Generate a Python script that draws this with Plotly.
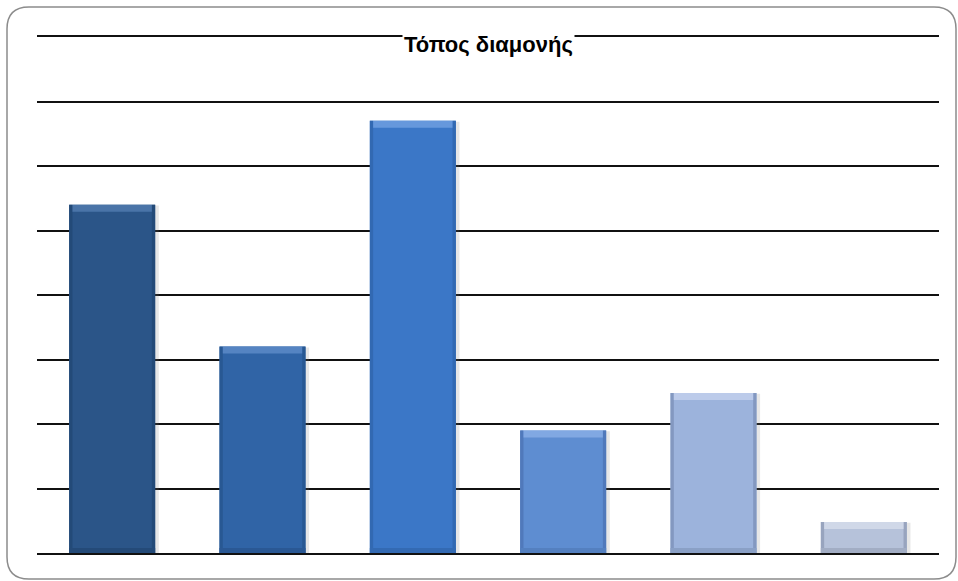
import plotly.graph_objects as go

# Τόπος διαμονής – share of respondents per category (%)
categories = ["Κ1", "Κ2", "Κ3", "Κ4", "Κ5", "Κ6"]
values = [27.0, 16.0, 33.5, 9.5, 12.4, 2.4]

# fill colours, dark to light
base_colors = ["#2b5588", "#3064a6", "#3b77c7", "#5e8dd1", "#9cb3dc", "#b6c2da"]
top_colors = ["#4a74a8", "#5584c2", "#6698dc", "#81a8e2", "#bccbea", "#d0d8e8"]
edge_colors = ["#234a78", "#285893", "#3269b2", "#5079bb", "#8398c0", "#98a4be"]
bottom_colors = ["#244a78", "#2a5894", "#336ab3", "#5480c0", "#8aa0c6", "#a2adc4"]

W = 958
H = 581
L, R, T, B = 37, 939, 37, 553  # plot area in pixels
Y_MAX = 40.0
Y_STEP = 5
BW = 0.572  # bar width as fraction of category slot
px_unit = (B - T) / Y_MAX  # pixels per data unit


def px(x):
    return (x - L) / (R - L)


def py(y):
    return (B - y) / (B - T)


fig = go.Figure()

# soft shadow behind each bar
fig.add_trace(go.Bar(
    x=categories, y=[v + 1.2 / px_unit for v in values], base=[-2 / px_unit] * 6,
    width=BW + 0.02, offset=-BW / 2 + 0.004,
    marker=dict(color="rgba(120,120,120,0.18)", line=dict(width=0)),
    hoverinfo="skip", showlegend=False,
))

# main bars
fig.add_trace(go.Bar(
    x=categories, y=values, width=BW, offset=-BW / 2,
    marker=dict(color=base_colors, line=dict(width=0)),
    showlegend=False,
))

# darker side edges
edge_w = 0.022
fig.add_trace(go.Bar(
    x=categories, y=values, width=edge_w, offset=-BW / 2,
    marker=dict(color=edge_colors, line=dict(width=0)),
    hoverinfo="skip", showlegend=False,
))
fig.add_trace(go.Bar(
    x=categories, y=values, width=edge_w, offset=BW / 2 - edge_w,
    marker=dict(color=edge_colors, line=dict(width=0)),
    hoverinfo="skip", showlegend=False,
))

# darker bottom band
band_b = 5 / px_unit
fig.add_trace(go.Bar(
    x=categories, y=[band_b] * 6, base=[0] * 6,
    width=BW, offset=-BW / 2,
    marker=dict(color=bottom_colors, line=dict(width=0)),
    hoverinfo="skip", showlegend=False,
))

# light top bevel band
band_t = 7 / px_unit
fig.add_trace(go.Bar(
    x=categories, y=[band_t] * 6, base=[v - band_t for v in values],
    width=BW - 2 * edge_w, offset=-BW / 2 + edge_w,
    marker=dict(color=top_colors, line=dict(width=0)),
    hoverinfo="skip", showlegend=False,
))

# rounded outer frame
x0, y0, x1, y1, r = 7, 7, 956, 579, 22
path = (
    f"M {px(x0 + r)} {py(y0)} L {px(x1 - r)} {py(y0)} "
    f"Q {px(x1)} {py(y0)} {px(x1)} {py(y0 + r)} "
    f"L {px(x1)} {py(y1 - r)} Q {px(x1)} {py(y1)} {px(x1 - r)} {py(y1)} "
    f"L {px(x0 + r)} {py(y1)} Q {px(x0)} {py(y1)} {px(x0)} {py(y1 - r)} "
    f"L {px(x0)} {py(y0 + r)} Q {px(x0)} {py(y0)} {px(x0 + r)} {py(y0)} Z"
)

fig.update_layout(
    width=W, height=H,
    margin=dict(l=L, r=W - R, t=T, b=H - B),
    paper_bgcolor="white", plot_bgcolor="white",
    barmode="overlay",
    showlegend=False,
    # bottom axis line = baseline, mirrored copy = top gridline
    xaxis=dict(showticklabels=False, showgrid=False, zeroline=False,
               showline=True, mirror=True, linecolor="#111111", linewidth=2,
               ticks="", range=[-0.5, 5.5], layer="below traces"),
    yaxis=dict(range=[0, Y_MAX], dtick=Y_STEP, showticklabels=False,
               showgrid=True, gridcolor="#111111", gridwidth=2,
               zeroline=False, showline=False, ticks="", layer="below traces"),
    shapes=[dict(type="path", path=path, xref="paper", yref="paper",
                 line=dict(color="#8c8c8c", width=1.5), layer="above")],
    annotations=[dict(
        text="<b>Τόπος διαμονής</b>", xref="paper", yref="paper",
        x=px(488), y=py(44), xanchor="center", yanchor="middle",
        showarrow=False, bgcolor="white", borderpad=1,
        font=dict(family="Liberation Sans, Arial, sans-serif", size=22, color="black"),
    )],
)

fig.write_html("out.html")
